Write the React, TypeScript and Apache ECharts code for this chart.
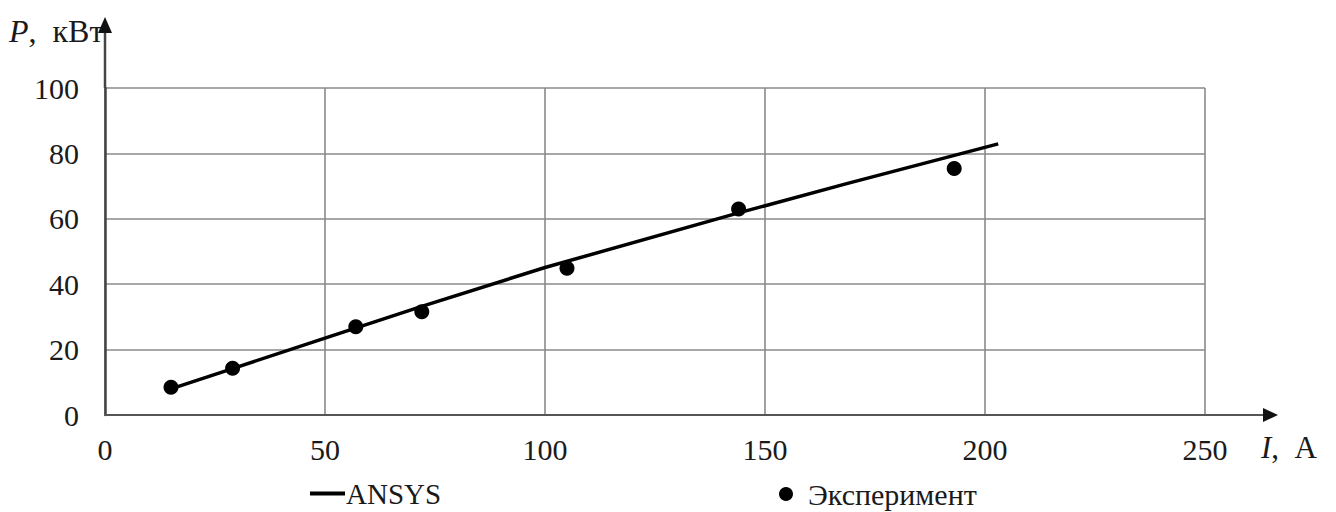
import React, { useEffect, useRef } from "react";
import * as echarts from "echarts";

const xTicks = [0, 50, 100, 150, 200, 250];
const yTicks = [0, 20, 40, 60, 80, 100];

const ansysI = [15, 29, 50, 72, 100, 144, 169, 203];
const ansysP = [8.0, 14.2, 23.5, 33.2, 45.1, 61.8, 70.9, 82.9];

const expI = [15, 29, 57, 72, 105, 144, 193];
const expP = [8.5, 14.3, 27.0, 31.6, 44.9, 63.0, 75.4];

const seriesNames = ["ANSYS", "Эксперимент"];
const yTitle = "{i|P},  кВт";
const xTitle = "{i|I},  А";

const FONT = "'Liberation Serif', 'DejaVu Serif', serif";

export default function App() {
  const ref = useRef<HTMLDivElement>(null);
  useEffect(() => {
    if (!ref.current) return;
    const chart = echarts.init(ref.current, undefined, { renderer: "svg" });
    const gridLeft = 105, gridRight = 131, gridTop = 88, gridBottom = 97;
    const W = 1336, H = 512;
    const x0 = gridLeft, y0 = H - gridBottom, x1 = W - gridRight, y1 = gridTop;
    chart.setOption({
      animation: false,
      backgroundColor: "#ffffff",
      textStyle: { fontFamily: FONT },
      grid: { left: gridLeft, right: gridRight, top: gridTop, bottom: gridBottom, containLabel: false },
      xAxis: {
        type: "value",
        min: xTicks[0],
        max: xTicks[xTicks.length - 1],
        interval: 50,
        axisLine: { show: true, lineStyle: { color: "#555", width: 2 } },
        axisTick: { show: false },
        splitLine: { show: true, lineStyle: { color: "#8a8a8a", width: 1.6 } },
        axisLabel: { color: "#1a1a1a", fontSize: 30, fontFamily: FONT, margin: 19 },
      },
      yAxis: {
        type: "value",
        min: yTicks[0],
        max: yTicks[yTicks.length - 1],
        interval: 20,
        axisLine: { show: true, lineStyle: { color: "#444", width: 2.5 } },
        axisTick: { show: false },
        splitLine: { show: true, lineStyle: { color: "#8a8a8a", width: 1.6 } },
        axisLabel: { color: "#1a1a1a", fontSize: 30, fontFamily: FONT, margin: 26 },
      },
      legend: [
        {
          data: [{ name: seriesNames[0], icon: "rect" }],
          left: 305,
          top: 474,
          itemWidth: 35,
          itemHeight: 4,
          textStyle: { fontSize: 29, fontFamily: FONT, color: "#1a1a1a", padding: [0, 0, 0, -4] },
        },
        {
          data: [{ name: seriesNames[1], icon: "circle" }],
          left: 774,
          top: 474,
          itemWidth: 14,
          itemHeight: 14,
          textStyle: { fontSize: 30, fontFamily: FONT, color: "#1a1a1a", padding: [0, 0, 0, 10] },
        },
      ],
      series: [
        {
          name: seriesNames[0],
          type: "line",
          data: ansysI.map((v, i) => [v, ansysP[i]]),
          showSymbol: false,
          lineStyle: { color: "#000", width: 3.5 },
          itemStyle: { color: "#000" },
          z: 3,
        },
        {
          name: seriesNames[1],
          type: "scatter",
          data: expI.map((v, i) => [v, expP[i]]),
          symbol: "circle",
          symbolSize: 15,
          itemStyle: { color: "#000", opacity: 1 },
          z: 4,
        },
      ],
      graphic: [
        { type: "line", shape: { x1: x1, y1: y0, x2: 1266, y2: y0 }, style: { stroke: "#555", lineWidth: 2 } },
        { type: "polygon", shape: { points: [[1278, y0], [1263, y0 - 7], [1263, y0 + 7]] }, style: { fill: "#111" } },
        { type: "line", shape: { x1: x0, y1: y1, x2: x0, y2: 30 }, style: { stroke: "#444", lineWidth: 2.5 } },
        { type: "polygon", shape: { points: [[x0, 17], [x0 - 7, 33], [x0 + 7, 33]] }, style: { fill: "#111" } },
        {
          type: "text",
          x: 9,
          y: 31,
          z: -1,
          style: {
            text: yTitle,
            fontSize: 32,
            fontFamily: FONT,
            fill: "#1a1a1a",
            verticalAlign: "middle",
            rich: { i: { fontStyle: "italic", fontSize: 32, fontFamily: FONT, fill: "#1a1a1a" } },
          },
        },
        {
          type: "text",
          x: 1261,
          y: 447,
          style: {
            text: xTitle,
            fontSize: 31,
            fontFamily: FONT,
            fill: "#1a1a1a",
            verticalAlign: "middle",
            rich: { i: { fontStyle: "italic", fontSize: 31, fontFamily: FONT, fill: "#1a1a1a" } },
          },
        },
      ],
    });
    return () => chart.dispose();
  }, []);
  return (
    <div
      ref={ref}
      style={{ position: "fixed", left: 0, top: 0, width: 1336, height: 512, background: "#fff" }}
    />
  );
}
